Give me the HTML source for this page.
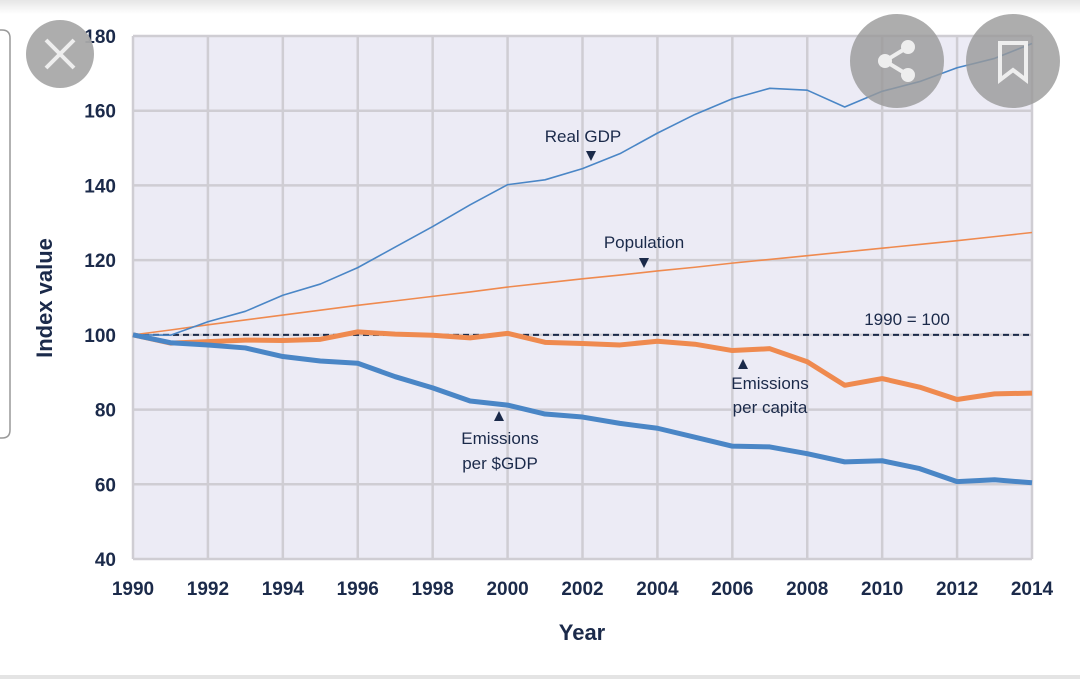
<!DOCTYPE html>
<html><head><meta charset="utf-8"><style>
body{margin:0;width:1080px;height:686px;background:#fff;overflow:hidden;font-family:"Liberation Sans",sans-serif}
svg{display:block}
</style></head><body>
<svg id="chart" width="1080" height="686">
<defs><linearGradient id="tg" x1="0" y1="0" x2="0" y2="1"><stop offset="0" stop-color="#e6e6e6"/><stop offset="1" stop-color="#fff"/></linearGradient></defs>
<rect x="0" y="0" width="1080" height="14" fill="url(#tg)"/>
<rect x="0" y="675" width="1080" height="4" fill="#e4e4e4"/>
<path d="M-5 30 H2 Q10 30 10 38 V430 Q10 438 2 438 H-5" fill="none" stroke="#999" stroke-width="1.5"/>
<rect x="133" y="36" width="899" height="523" fill="#ecebf5"/>
<g id="grid"></g>
<g id="series"></g>
<g id="labels" font-weight="bold" fill="#1b2a4a" font-size="19"></g>
<g font-family="Liberation Sans,sans-serif" fill="#1b2a4a" font-size="17">
<text x="583" y="142" text-anchor="middle">Real GDP</text>
<path d="M586 151 L596 151 L591 161Z"/>
<text x="644" y="248" text-anchor="middle">Population</text>
<path d="M639 258 L649 258 L644 268Z"/>
<text x="907" y="325" text-anchor="middle">1990 = 100</text>
<path d="M738 369 L748 369 L743 359Z"/>
<text x="770" y="389" text-anchor="middle">Emissions</text>
<text x="770" y="413" text-anchor="middle">per capita</text>
<path d="M494 421 L504 421 L499 411Z"/>
<text x="500" y="444" text-anchor="middle">Emissions</text>
<text x="500" y="469" text-anchor="middle">per $GDP</text>
<text x="582" y="640" text-anchor="middle" font-weight="bold" font-size="22">Year</text>
<text transform="translate(52,298) rotate(-90)" text-anchor="middle" font-weight="bold" font-size="22">Index value</text>
</g>
<g><circle cx="60" cy="54" r="34" fill="#a9a9a9" opacity="0.95"/><path d="M46 40 L74 68 M74 40 L46 68" stroke="#eee" stroke-width="4"/></g>
<g><circle cx="897" cy="61" r="47" fill="#999" opacity="0.8"/><path d="M885 61 L908 47 M885 61 L908 75" stroke="#eee" stroke-width="4"/><circle cx="885" cy="61" r="7" fill="#eee"/><circle cx="908" cy="47" r="7" fill="#eee"/><circle cx="908" cy="75" r="7" fill="#eee"/></g>
<g><circle cx="1013" cy="61" r="47" fill="#999" opacity="0.8"/><path d="M1000 43 H1026 V80 L1013 70 L1000 80Z" fill="none" stroke="#eee" stroke-width="4"/></g>
</svg>
<script>
const years=[1990,1991,1992,1993,1994,1995,1996,1997,1998,1999,2000,2001,2002,2003,2004,2005,2006,2007,2008,2009,2010,2011,2012,2013,2014];
const realGdp=[100,99.9,103.5,106.3,110.6,113.6,118,123.5,129,134.8,140.2,141.5,144.5,148.5,154,159,163.2,166,165.5,161,165.2,167.8,171.5,174,178];
const population=[100,101.3,102.7,104,105.3,106.6,107.9,109.1,110.3,111.5,112.8,113.9,115,116,117.1,118.1,119.2,120.2,121.2,122.2,123.2,124.2,125.2,126.3,127.4];
const perCapita=[100,97.8,98.2,98.6,98.5,98.8,100.8,100.2,99.9,99.2,100.4,98,97.7,97.3,98.3,97.5,95.8,96.3,92.8,86.5,88.3,86,82.7,84.2,84.4];
const perGdp=[100,97.9,97.3,96.5,94.2,93,92.4,88.8,85.8,82.3,81.2,78.8,78,76.3,75,72.6,70.2,70,68.2,66,66.3,64.2,60.7,61.2,60.4];
const yTicks=[40,60,80,100,120,140,160,180];
const xTicks=[1990,1992,1994,1996,1998,2000,2002,2004,2006,2008,2010,2012,2014];
const NS="http://www.w3.org/2000/svg";
const X=y=>133+(y-1990)*(899/24), Y=v=>559-(v-40)*(523/140);
function mk(t,a,p){const e=document.createElementNS(NS,t);for(const k in a)e.setAttribute(k,a[k]);p.appendChild(e);return e;}
const grid=document.getElementById('grid'),lab=document.getElementById('labels'),ser=document.getElementById('series');
yTicks.forEach(v=>{
const l=mk('line',{x1:133,x2:1032,y1:Y(v),y2:Y(v),stroke:'#cfcdd3','stroke-width':2.5},grid);


const t=mk('text',{x:116,y:Y(v)+7,'text-anchor':'end'},lab);t.textContent=v;


});
xTicks.forEach(y=>{
const l=mk('line',{x1:X(y),x2:X(y),y1:36,y2:559,stroke:'#cfcdd3','stroke-width':2.5},grid);


const t=mk('text',{x:X(y),y:595,'text-anchor':'middle'},lab);t.textContent=y;


});
const base=mk('line',{x1:133,x2:1032,y1:Y(100),y2:Y(100),stroke:'#1b2a4a','stroke-width':2,'stroke-dasharray':'6,4'},ser);


function line(vals,col,w,name){
const p=mk('polyline',{points:vals.map((v,i)=>X(years[i])+','+Y(v)).join(' '),fill:'none',stroke:col,'stroke-width':w,'stroke-linejoin':'round'},ser);


}
line(population,'#ef8a4f',1.6,'population-line');
line(realGdp,'#4a86c6',1.6,'real-gdp-line');
line(perCapita,'#ef8a4f',5,'emissions-per-capita-line');
line(perGdp,'#4a86c6',5,'emissions-per-gdp-line');
</script>
</body></html>
